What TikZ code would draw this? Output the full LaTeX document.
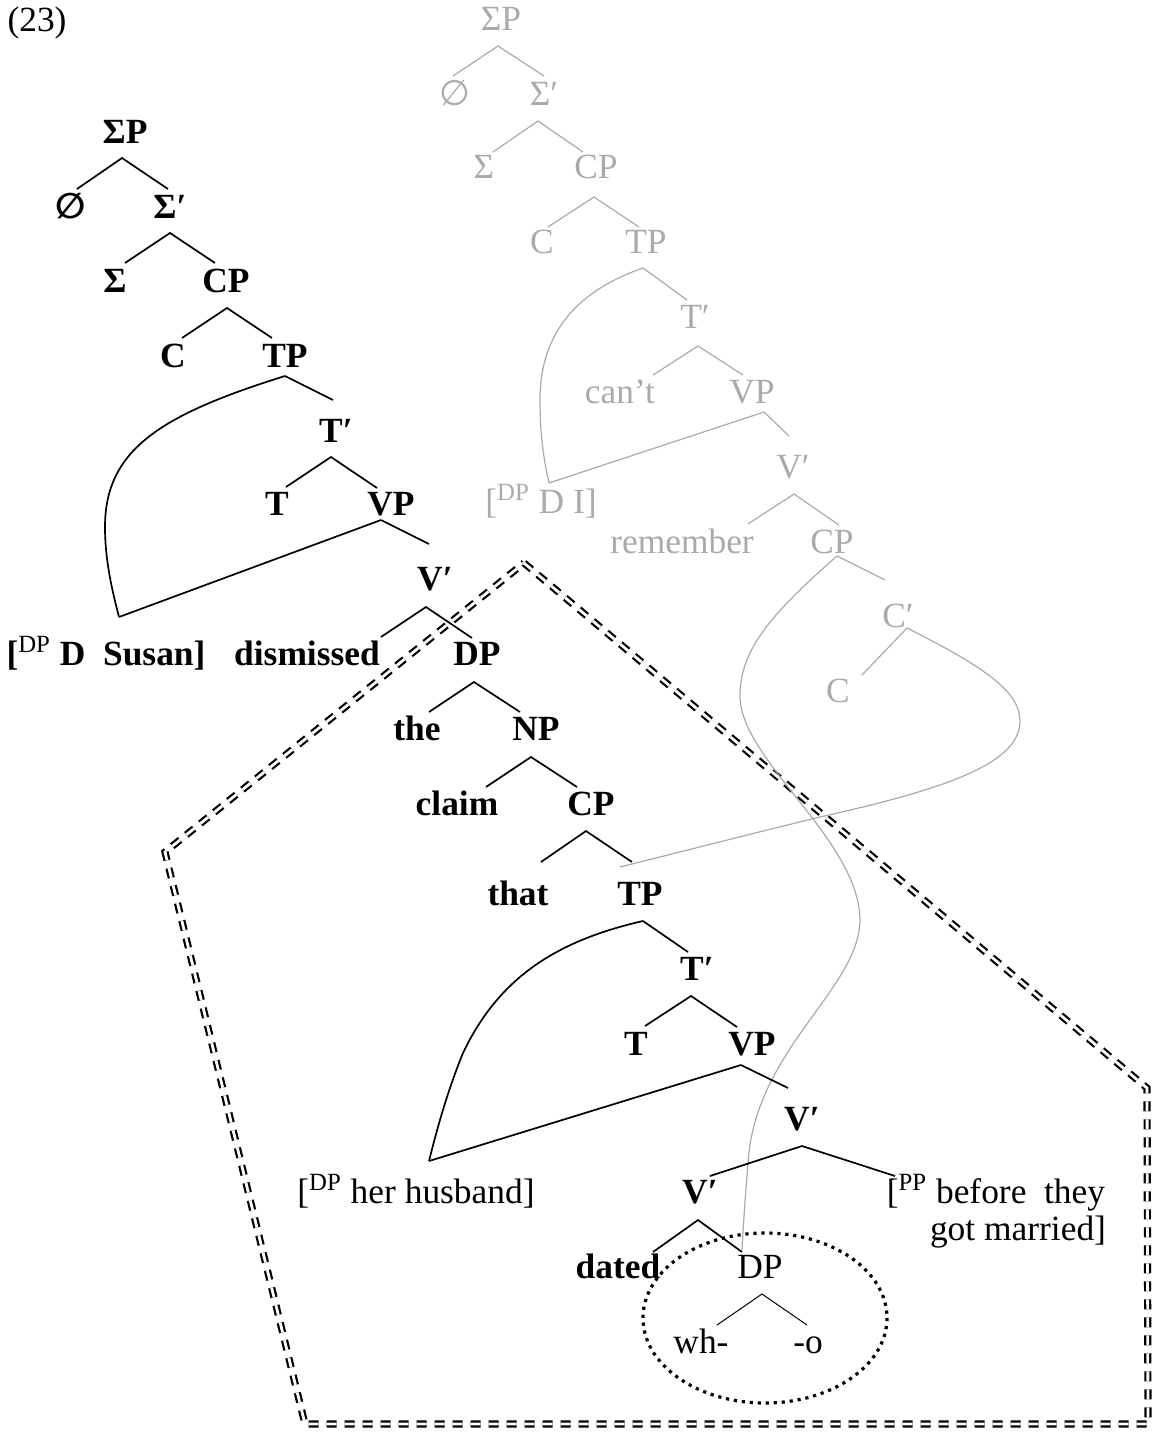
\documentclass[tikz,border=0pt]{standalone}
\usepackage{fontspec}
\setmainfont{Liberation Serif}
\newfontfamily\symf[Scale=1.0]{DejaVu Sans}
\definecolor{tg}{RGB}{170,170,170}
\newcommand{\lblfont}{\fontsize{17.7}{21}\selectfont}
\newcommand{\nullset}{{\symf ∅}}
\begin{document}
\begin{tikzpicture}[x=0.5pt,y=-0.5pt,
  lab/.style={inner sep=0pt, anchor=base, font=\lblfont},
  blab/.style={lab, font=\lblfont\bfseries},
  glab/.style={lab, text=tg},
  bl/.style={line width=0.85pt},
  gl/.style={line width=0.6pt, draw=tg},
  tl/.style={line width=0.5pt},
  box/.style={line width=1.1pt, double distance=1.4pt, dash pattern=on 5pt off 4pt},
  dots/.style={line width=1.6pt, dash pattern=on 1.6pt off 2.4pt}]
\useasboundingbox (0,0) rectangle (1155,1432);

% dashed pentagon
\coordinate (p1) at (524,563);
\coordinate (p2) at (1147,1088);
\coordinate (p3) at (1148,1424);
\coordinate (p4) at (305,1424);
\coordinate (p5) at (165,852);
\draw[box] (p1) -- (p2) -- (p3) -- (p4) -- (p5) -- cycle;

% dotted ellipse
\coordinate (ell) at (765,1318);
\draw[dots] (ell) ellipse [x radius=122, y radius=85];

\node[lab] (ex) at (37,31) {(23)};

% ---------- gray tree ----------
\node[glab] (gsp) at (501,30) {ΣP};
\node[glab] (gnull) at (455,105) {\nullset};
\node[glab] (gsbar) at (544,105) {Σ′};
\node[glab] (gsig) at (484,178) {Σ};
\node[glab] (gcp1) at (596,178) {CP};
\node[glab] (gc1) at (542,253) {C};
\node[glab] (gtp) at (646,253) {TP};
\node[glab] (gtb) at (695,328) {T′};
\node[glab] (gcant) at (620,403) {can’t};
\node[glab] (gvp) at (752,403) {VP};
\node[glab] (gvb) at (793,478) {V′};
\node[glab] (gdi) at (541,513) {[\textsuperscript{DP} D I]};
\node[glab] (grem) at (682,553) {remember};
\node[glab] (gcp2) at (832,553) {CP};
\node[glab] (gcb) at (898,627) {C′};
\node[glab] (gc2) at (838,702) {C};

\coordinate (gsp-a) at (498,46); \coordinate (gsp-l) at (453,76); \coordinate (gsp-r) at (544,76);
\coordinate (gsb-a) at (538,121); \coordinate (gsb-l) at (493,152); \coordinate (gsb-r) at (583,152);
\coordinate (gcp-a) at (594,197); \coordinate (gcp-l) at (548,227); \coordinate (gcp-r) at (639,227);
\coordinate (gtp-a) at (643,268); \coordinate (gtp-r) at (687,300);
\coordinate (gtb-a) at (698,346); \coordinate (gtb-l) at (653,375); \coordinate (gtb-r) at (743,375);
\coordinate (gvp-a) at (764,412); \coordinate (gvp-r) at (789,436);
\coordinate (gdi-t) at (549,483);
\coordinate (gvb-a) at (794,494); \coordinate (gvb-l) at (748,524); \coordinate (gvb-r) at (839,525);
\coordinate (gcq-a) at (837,556); \coordinate (gcq-r) at (885,580);
\coordinate (gcb-a) at (907,628); \coordinate (gcb-l) at (862,675);
\coordinate (cp2-t) at (620,867);
\coordinate (dp2-t) at (742,1250);

\draw[gl] (gsp-l) -- (gsp-a) -- (gsp-r);
\draw[gl] (gsb-l) -- (gsb-a) -- (gsb-r);
\draw[gl] (gcp-l) -- (gcp-a) -- (gcp-r);
\draw[gl] (gtp-a) -- (gtp-r);
\draw[gl] (gtb-l) -- (gtb-a) -- (gtb-r);
\draw[gl] (gvp-a) -- (gvp-r);
\draw[gl] (gvp-a) -- (gdi-t);
\draw[gl] (gvb-l) -- (gvb-a) -- (gvb-r);
\draw[gl] (gcq-a) -- (gcq-r);
\draw[gl] (gcb-a) -- (gcb-l);
% movement curves (gray)
\draw[gl] (gtp-a) .. controls (580,290) and (540,330) .. (540,400)
  .. controls (540,440) and (545,465) .. (gdi-t);
\draw[gl] (gcq-a) .. controls (770,615) and (740,650) .. (740,696)
  .. controls (740,760) and (860,840) .. (860,921)
  .. controls (858,990) and (755,1050) .. (748,1163)
  .. controls (745,1200) and (743,1230) .. (dp2-t);
\draw[gl] (gcb-a) .. controls (980,665) and (1020,690) .. (1020,721)
  .. controls (1020,765) and (940,790) .. (820,817)
  .. controls (750,834) and (680,852) .. (cp2-t);

% ---------- black tree ----------
\node[blab] (sp) at (125,143) {ΣP};
\node[blab] (null) at (71,218) {\nullset};
\node[blab] (sbar) at (170,218) {Σ′};
\node[blab] (sig) at (115,292) {Σ};
\node[blab] (cp1) at (226,292) {CP};
\node[blab] (c1) at (173,367) {C};
\node[blab] (tp1) at (285,367) {TP};
\node[blab] (tb1) at (336,442) {T′};
\node[blab] (t1) at (277,515) {T};
\node[blab] (vp1) at (391,515) {VP};
\node[blab] (vb1) at (435,590) {V′};
\node[blab] (susan) at (106,665) {[\textsuperscript{\mdseries DP} D\enspace Susan]};
\node[blab] (dism) at (307,665) {dismissed};
\node[blab] (dp1) at (477,665) {DP};
\node[blab] (the) at (417,740) {the};
\node[blab] (np) at (536,740) {NP};
\node[blab] (claim) at (457,815) {claim};
\node[blab] (cp2) at (591,815) {CP};
\node[blab] (that) at (518,905) {that};
\node[blab] (tp2) at (640,905) {TP};
\node[blab] (tb2) at (697,980) {T′};
\node[blab] (t2) at (636,1055) {T};
\node[blab] (vp2) at (752,1055) {VP};
\node[blab] (vb2) at (802,1130) {V′};
\node[lab] (husb) at (416,1203) {[\textsuperscript{DP} her husband]};
\node[blab] (vb3) at (700,1203) {V′};
\node[lab] (pp1) at (996,1203) {[\textsuperscript{PP} before\enspace they};
\node[lab] (pp2) at (1018,1240) {got married]};
\node[blab] (dated) at (618,1278) {dated};
\node[lab] (dp2) at (760,1278) {DP};
\node[lab] (wh) at (701,1353) {wh-};
\node[lab] (o) at (808,1353) {-o};

\coordinate (sp-a) at (122,158); \coordinate (sp-l) at (77,189); \coordinate (sp-r) at (168,189);
\coordinate (sb-a) at (170,233); \coordinate (sb-l) at (125,263); \coordinate (sb-r) at (215,263);
\coordinate (cp1-a) at (227,308); \coordinate (cp1-l) at (182,338); \coordinate (cp1-r) at (272,338);
\coordinate (tp1-a) at (285,376); \coordinate (tp1-r) at (333,400);
\coordinate (tb1-a) at (331,457); \coordinate (tb1-l) at (286,487); \coordinate (tb1-r) at (377,488);
\coordinate (vp1-a) at (381,520); \coordinate (vp1-r) at (429,544);
\coordinate (sus-t) at (119,617);
\coordinate (vb1-a) at (426,607); \coordinate (vb1-l) at (381,637); \coordinate (vb1-r) at (472,638);
\coordinate (dp1-a) at (474,682); \coordinate (dp1-l) at (429,712); \coordinate (dp1-r) at (520,712);
\coordinate (np-a) at (531,757); \coordinate (np-l) at (486,787); \coordinate (np-r) at (577,787);
\coordinate (cp2-a) at (586,831); \coordinate (cp2-l) at (541,862); \coordinate (cp2-r) at (632,862);
\coordinate (tp2-a) at (643,921); \coordinate (tp2-r) at (688,952);
\coordinate (tb2-a) at (691,996); \coordinate (tb2-l) at (645,1026); \coordinate (tb2-r) at (737,1027);
\coordinate (vp2-a) at (741,1065); \coordinate (vp2-r) at (788,1088);
\coordinate (hus-t) at (429,1161);
\coordinate (vb2-a) at (802,1146); \coordinate (vb2-l) at (710,1176); \coordinate (vb2-r) at (895,1176);
\coordinate (vb3-a) at (698,1220); \coordinate (vb3-l) at (653,1252); \coordinate (vb3-r) at (742,1252);
\coordinate (dp2-a) at (762,1294); \coordinate (dp2-l) at (717,1325); \coordinate (dp2-r) at (807,1325);

\draw[bl] (sp-l) -- (sp-a) -- (sp-r);
\draw[bl] (sb-l) -- (sb-a) -- (sb-r);
\draw[bl] (cp1-l) -- (cp1-a) -- (cp1-r);
\draw[bl] (tp1-a) -- (tp1-r);
\draw[bl] (tb1-l) -- (tb1-a) -- (tb1-r);
\draw[bl] (vp1-a) -- (vp1-r);
\draw[bl] (vp1-a) -- (sus-t);
\draw[bl] (vb1-l) -- (vb1-a) -- (vb1-r);
\draw[bl] (dp1-l) -- (dp1-a) -- (dp1-r);
\draw[bl] (np-l) -- (np-a) -- (np-r);
\draw[bl] (cp2-l) -- (cp2-a) -- (cp2-r);
\draw[bl] (tp2-a) -- (tp2-r);
\draw[bl] (tb2-l) -- (tb2-a) -- (tb2-r);
\draw[bl] (vp2-a) -- (vp2-r);
\draw[bl] (vp2-a) -- (hus-t);
\draw[bl] (vb2-l) -- (vb2-a) -- (vb2-r);
\draw[bl] (vb3-l) -- (vb3-a) -- (vb3-r);
\draw[tl] (dp2-l) -- (dp2-a) -- (dp2-r);
% movement curves (black)
\draw[bl] (tp1-a) .. controls (160,415) and (105,450) .. (105,527)
  .. controls (105,560) and (112,590) .. (sus-t);
\draw[bl] (tp2-a) .. controls (560,940) and (500,975) .. (463,1053)
  .. controls (448,1090) and (438,1125) .. (hus-t);
\end{tikzpicture}
\end{document}
